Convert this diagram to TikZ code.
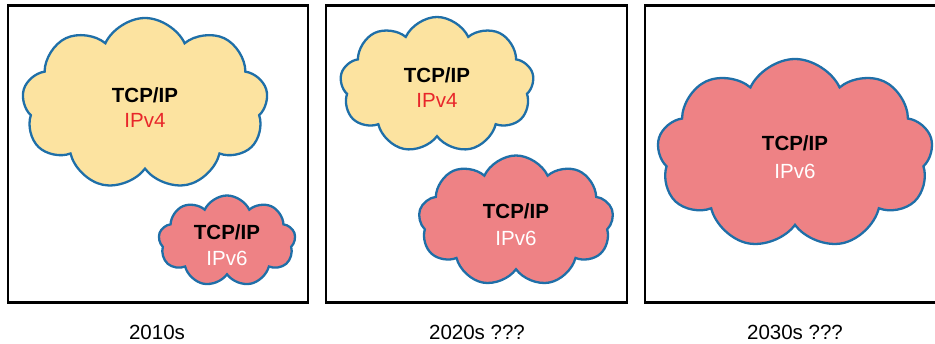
\documentclass[tikz,border=0pt]{standalone}
\usepackage{fontspec}
\setmainfont{Liberation Sans}
\usetikzlibrary{shapes.symbols}
\definecolor{cloudyellow}{HTML}{FCE3A0}
\definecolor{cloudred}{HTML}{EE8285}
\definecolor{cloudline}{HTML}{1F6FA8}
\definecolor{v4red}{HTML}{E8262A}
\tikzset{
  frame/.style={draw=black, line width=2.7pt},
  cloudbase/.style={cloud, cloud puffs=9, cloud puff arc=130, draw=cloudline, line width=2.3pt, inner sep=0pt},
  v4cloud/.style={cloudbase, fill=cloudyellow},
  v6cloud/.style={cloudbase, fill=cloudred},
  title/.style={font=\fontsize{20.5}{22}\selectfont\bfseries, text=black},
  v4text/.style={font=\fontsize{20.5}{22}\selectfont, text=v4red},
  v6text/.style={font=\fontsize{20.5}{22}\selectfont, text=white},
  caption/.style={font=\fontsize{20.5}{22}\selectfont, text=black}
}
\begin{document}
\begin{tikzpicture}[x=1pt, y=-1pt]
\useasboundingbox (0,0) rectangle (935,344);
\begin{scope}
\clip (0,0) rectangle (935,344);
\draw[frame] (8,5.5) rectangle (308,302.5);
\draw[frame] (326,5.5) rectangle (627,302.5);
\draw[frame] (645,5.5) rectangle (960,302.5);
\end{scope}
% box 1
\node[v4cloud, minimum width=246pt, minimum height=172pt] (c1) at (145,104) {};
\node[title] (t1) at (145,95) {TCP/IP};
\node[v4text] (s1) at (145,120) {IPv4};
\node[v6cloud, minimum width=137pt, minimum height=91pt] (c2) at (227,241) {};
\node[title] (t2) at (227,232) {TCP/IP};
\node[v6text] (s2) at (227,258) {IPv6};
\node[caption] (l1) at (157,332) {2010s};
% box 2
\node[v4cloud, minimum width=194pt, minimum height=136pt] (c3) at (437,85) {};
\node[title] (t3) at (437,75) {TCP/IP};
\node[v4text] (s3) at (437,100) {IPv4};
\node[v6cloud, minimum width=195pt, minimum height=131pt] (c4) at (516,221) {};
\node[title] (t4) at (516,211) {TCP/IP};
\node[v6text] (s4) at (516,238) {IPv6};
\node[caption] (l2) at (477,332) {2020s ???};
% box 3
\node[v6cloud, minimum width=276pt, minimum height=190pt] (c5) at (795,154) {};
\node[title] (t5) at (795,143) {TCP/IP};
\node[v6text] (s5) at (795,171) {IPv6};
\node[caption] (l3) at (795,332) {2030s ???};
\end{tikzpicture}
\end{document}
